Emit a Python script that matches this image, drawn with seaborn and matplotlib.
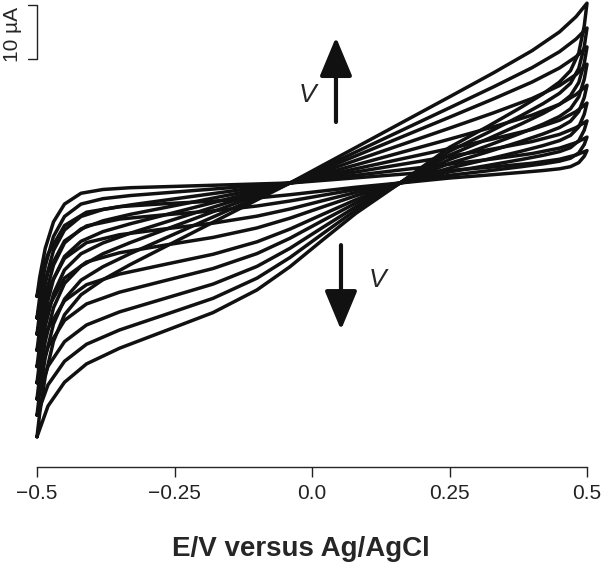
import matplotlib

matplotlib.use("Agg")
import matplotlib.pyplot as plt
import pandas as pd
import seaborn as sns

# potential grid of each sweep (V vs Ag/AgCl)
E_FORWARD = [-0.50, -0.495, -0.485, -0.47, -0.45, -0.42, -0.38, -0.33, -0.27, -0.20,
             -0.12, -0.04, 0.05, 0.15, 0.25, 0.33, 0.40, 0.45, 0.48, 0.50]
E_REVERSE = [0.50, 0.495, 0.485, 0.47, 0.45, 0.42, 0.38, 0.32, 0.25, 0.16, 0.08,
             0.02, -0.04, -0.10, -0.18, -0.27, -0.35, -0.41, -0.45, -0.48, -0.50]

# current (uA), one row per voltammogram
I_FORWARD = [
    [-21, -17.4, -12.1, -7.2, -3.9, -1.9, -1.2, -0.87, -0.69, -0.48, -0.24, 0, 0.72, 1.52, 2.32, 2.98, 3.66, 4.40, 5.18, 6.0],
    [-25, -21.1, -15.3, -9.9, -6.2, -3.9, -2.9, -2.32, -1.84, -1.28, -0.64, 0, 1.08, 2.28, 3.48, 4.47, 5.45, 6.46, 7.47, 8.5],
    [-28, -24.0, -18.1, -12.5, -8.7, -6.2, -4.9, -4.06, -3.22, -2.24, -1.12, 0, 1.53, 3.23, 4.93, 6.32, 7.67, 9.0, 10.25, 11.5],
    [-31, -26.95, -20.9, -15.2, -11.1, -8.5, -7.0, -5.8, -4.6, -3.2, -1.6, 0, 1.98, 4.18, 6.38, 8.18, 9.92, 11.62, 13.21, 14.8],
    [-34, -29.9, -23.7, -17.8, -13.6, -10.8, -9.0, -7.54, -5.98, -4.16, -2.08, 0, 2.52, 5.32, 8.12, 10.4, 12.56, 14.58, 16.37, 18.1],
    [-37, -32.8, -26.5, -20.5, -16.1, -13.1, -11.1, -9.28, -7.36, -5.12, -2.56, 0, 3.15, 6.65, 10.15, 12.99, 15.65, 18.04, 20.08, 22.0],
    [-40, -35.7, -29.3, -23.1, -18.6, -15.4, -13.1, -11.02, -8.74, -6.08, -3.04, 0, 3.78, 7.98, 12.18, 15.58, 18.69, 21.3, 23.37, 25.2],
    [-43, -38.7, -32.3, -26.1, -21.5, -18.0, -15.5, -13.05, -10.35, -7.2, -3.6, 0, 4.32, 9.12, 13.92, 17.8, 21.35, 24.32, 26.65, 28.7],
    [-47, -42.6, -35.8, -29.3, -24.4, -20.7, -17.9, -15.08, -11.96, -8.32, -4.16, 0, 4.95, 10.45, 15.95, 20.4, 24.5, 27.98, 30.79, 33.3],
]
I_REVERSE = [
    [6.0, 4.95, 3.77, 3.03, 2.63, 2.31, 1.96, 1.47, 0.92, 0, -0.78, -1.47, -2.17, -2.77, -3.36, -3.85, -4.38, -5.41, -7.88, -13.18, -21],
    [8.5, 7.13, 5.57, 4.59, 4.04, 3.55, 3.01, 2.26, 1.42, 0, -1.20, -2.26, -3.33, -4.26, -5.16, -5.91, -6.68, -7.95, -10.74, -16.52, -25],
    [11.5, 9.79, 7.82, 6.55, 5.81, 5.12, 4.34, 3.26, 2.05, 0, -1.74, -3.26, -4.81, -6.14, -7.44, -8.53, -9.58, -11.05, -13.96, -19.70, -28],
    [14.8, 12.74, 10.38, 8.82, 7.85, 6.93, 5.88, 4.41, 2.77, 0, -2.35, -4.41, -6.51, -8.32, -10.08, -11.55, -12.92, -14.63, -17.61, -23.14, -31],
    [18.1, 15.84, 13.22, 11.44, 10.27, 9.08, 7.7, 5.78, 3.63, 0, -3.08, -5.78, -8.53, -10.89, -13.2, -15.13, -16.87, -18.83, -21.81, -26.92, -34],
    [22.0, 19.2, 15.94, 13.74, 12.32, 10.89, 9.24, 6.93, 4.36, 0, -3.70, -6.93, -10.23, -13.07, -15.84, -18.15, -20.22, -22.4, -25.45, -30.35, -37],
    [25.2, 22.16, 18.61, 16.18, 14.55, 12.87, 10.92, 8.19, 5.15, 0, -4.37, -8.19, -12.09, -15.44, -18.72, -21.45, -23.87, -26.29, -29.38, -33.94, -40],
    [28.7, 25.24, 21.22, 18.46, 16.61, 14.69, 12.46, 9.35, 5.87, 0, -4.98, -9.35, -13.8, -17.62, -21.36, -24.48, -27.22, -29.86, -33.02, -37.38, -43],
    [33.3, 29.1, 24.1, 20.8, 18.7, 16.5, 14.0, 10.5, 6.6, 0, -5.6, -10.5, -15.5, -19.8, -24.0, -27.5, -30.6, -33.5, -36.9, -41.3, -47],
]

TICKS = [-0.5, -0.25, 0.0, 0.25, 0.5]
TICK_LABELS = ["\u22120.5", "\u22120.25", "0.0", "0.25", "0.5"]

rows = []
for k, (fwd, rev) in enumerate(zip(I_FORWARD, I_REVERSE)):
    step = 0
    for e, i in list(zip(E_FORWARD, fwd)) + list(zip(E_REVERSE, rev)):
        rows.append({"loop": k, "step": step, "E": e, "I": i})
        step += 1
frame = pd.DataFrame(rows)

sns.set_style("ticks")
plt.rcParams["font.family"] = ["Liberation Sans", "DejaVu Sans"]

fig = plt.figure(figsize=(6.02, 5.65), dpi=100)
ax = fig.add_axes([0, 98 / 565, 1, 467 / 565])

sns.lineplot(data=frame, x="E", y="I", units="loop", estimator=None, sort=False,
             color="#111111", linewidth=2.5, ax=ax)
for line in ax.lines:
    line.set_solid_joinstyle("round")
    line.set_solid_capstyle("round")
    line.set_clip_on(False)

ax.set_xlim(-0.5 - 37 / 550, 0.5 + 15 / 550)
ax.set_ylim((183 - 467) / 5.4, 183 / 5.4)

for side in ["left", "top", "right"]:
    ax.spines[side].set_visible(False)
ax.spines["bottom"].set_bounds(-0.5, 0.5)
ax.spines["bottom"].set_linewidth(1.0)
ax.set_yticks([])
ax.set_xticks(TICKS)
ax.set_xticklabels(TICK_LABELS, fontsize=15)
ax.tick_params(axis="x", length=7, width=1.0, pad=5, colors="#222222")
ax.set_xlabel("E/V versus Ag/AgCl", fontsize=20, fontweight="bold", labelpad=24)
ax.set_ylabel("")

# 10 uA scale bar
bar_top = (183 - 5) / 5.4
bar_bot = bar_top - 10
ax.plot([-0.5164, -0.5, -0.5, -0.5164], [bar_top, bar_top, bar_bot, bar_bot],
        color="#222222", lw=1.0, clip_on=False)
fig.text(12 / 602, 1 - 34 / 565, "10 \u00b5A", rotation=90, ha="center", va="center", fontsize=15)

# scan-rate arrows
arrow = dict(arrowstyle="-|>,head_length=24,head_width=10", mutation_scale=1,
             lw=3, color="#111111", shrinkA=0, shrinkB=0)
ax.annotate("", xy=(0.0436, 27.0), xytext=(0.0436, 11.3), arrowprops=arrow)
ax.annotate("", xy=(0.0527, -27.2), xytext=(0.0527, -11.5), arrowprops=arrow)
ax.text(-0.0073, 16.3, "V", fontsize=19, style="italic", ha="center", va="center")
ax.text(0.12, -18.0, "V", fontsize=19, style="italic", ha="center", va="center")

fig.savefig("out.png", dpi=100)
plt.close(fig)
